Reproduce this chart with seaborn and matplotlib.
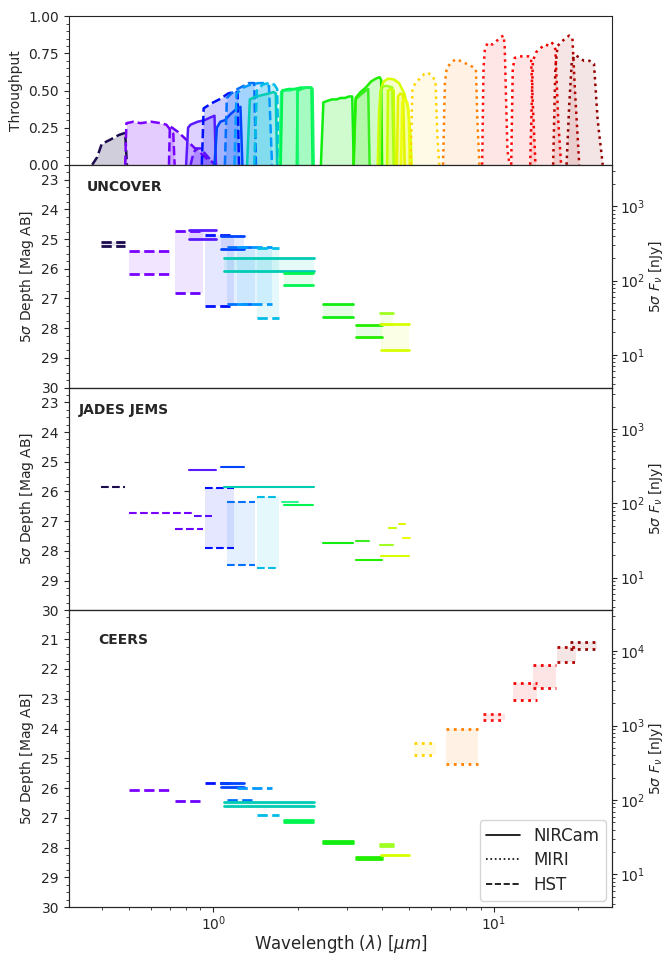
import numpy as np
import pandas as pd
import matplotlib
matplotlib.use("Agg")
import matplotlib.pyplot as plt
import seaborn as sns
from matplotlib.lines import Line2D
from matplotlib.ticker import MultipleLocator, FormatStrFormatter

sns.set_style("ticks")
plt.rcParams['font.family'] = ['DejaVu Sans']

# ---------------------------------------------------------------------------
# Filter table: name, instrument, wavelength span [um]
# ---------------------------------------------------------------------------
filter_names = ['F435W', 'F606W', 'F775W', 'F814W', 'F850LP', 'F090W', 'F105W',
                'F115W', 'F125W', 'F140W', 'F160W', 'F150W', 'F182M', 'F200W',
                'F277W', 'F335M', 'F356W', 'F410M', 'F430M', 'F444W', 'F460M',
                'F480M', 'F560W', 'F770W', 'F1000W', 'F1280W', 'F1500W',
                'F1800W', 'F2100W']
filter_instr = ['HST', 'HST', 'HST', 'HST', 'HST', 'NIRCam', 'HST',
                'NIRCam', 'HST', 'HST', 'HST', 'NIRCam', 'NIRCam', 'NIRCam',
                'NIRCam', 'NIRCam', 'NIRCam', 'NIRCam', 'NIRCam', 'NIRCam', 'NIRCam',
                'NIRCam', 'MIRI', 'MIRI', 'MIRI', 'MIRI', 'MIRI',
                'MIRI', 'MIRI']
filter_lmin = [0.398, 0.499, 0.719, 0.732, 0.856, 0.822, 0.937,
               1.062, 1.118, 1.214, 1.431, 1.091, 1.759, 1.794,
               2.468, 3.237, 3.237, 3.92, 4.24, 3.95, 4.59,
               4.74, 5.20, 6.75, 9.14, 11.71, 13.8,
               16.8, 18.7]
filter_lmax = [0.483, 0.703, 0.847, 0.919, 0.992, 1.022, 1.19,
               1.292, 1.411, 1.617, 1.713, 2.295, 2.005, 2.263,
               3.156, 3.597, 4.01, 4.38, 4.47, 4.99, 4.82,
               5.05, 6.25, 8.78, 11.01, 14.27, 16.7,
               19.7, 23.3]
filter_colors = ['#1c0a4f', '#7a00ff', '#7400ff', '#6a00ff', '#5a10ff', '#5a1aff', '#0010ff',
                 '#0044ff', '#0070ff', '#0099ff', '#00bce6', '#00ccb4', '#30f590', '#00f550',
                 '#10ee10', '#3aee20', '#22ee00', '#a0ff20', '#c8ff00', '#d8ff00', '#e4f400',
                 '#ecff10', '#ffd400', '#ff8000', '#ff1010', '#ff0000', '#ee0000',
                 '#b00000', '#900000']

# ---------------------------------------------------------------------------
# Throughput curves (wavelength [um], throughput)
# ---------------------------------------------------------------------------
tp_F435W = [(0.37, 0), (0.385, 0.05), (0.40, 0.14), (0.43, 0.17), (0.46, 0.20), (0.485, 0.215), (0.492, 0)]
tp_F606W = [(0.485, 0), (0.49, 0.28), (0.52, 0.29), (0.55, 0.28), (0.60, 0.29), (0.65, 0.28),
            (0.68, 0.27), (0.70, 0.24), (0.72, 0.21), (0.728, 0)]
tp_F814W = [(0.695, 0), (0.70, 0.26), (0.75, 0.22), (0.80, 0.17), (0.85, 0.12), (0.90, 0.08),
            (0.95, 0.04), (1.0, 0.015), (1.03, 0)]
tp_F850LP = [(0.83, 0), (0.85, 0.08), (0.87, 0.11), (0.90, 0.11), (0.93, 0.08), (0.97, 0.04),
             (1.0, 0.01), (1.02, 0)]
tp_F090W = [(0.80, 0), (0.813, 0.25), (0.83, 0.27), (0.88, 0.29), (0.93, 0.30), (0.98, 0.32),
            (1.01, 0.33), (1.022, 0)]
tp_F105W = [(0.91, 0), (0.924, 0.38), (0.96, 0.40), (1.0, 0.42), (1.05, 0.44), (1.09, 0.46),
            (1.13, 0.48), (1.18, 0.49), (1.22, 0.49), (1.235, 0)]
tp_F115W = [(1.01, 0), (1.03, 0.25), (1.06, 0.29), (1.10, 0.30), (1.15, 0.34), (1.20, 0.37),
            (1.25, 0.39), (1.27, 0)]
tp_F125W = [(1.10, 0), (1.118, 0.45), (1.16, 0.48), (1.22, 0.51), (1.28, 0.53), (1.34, 0.55),
            (1.40, 0.55), (1.42, 0)]
tp_F140W = [(1.19, 0), (1.21, 0.48), (1.28, 0.52), (1.36, 0.54), (1.45, 0.55), (1.52, 0.55),
            (1.58, 0.53), (1.62, 0)]
tp_F160W = [(1.40, 0), (1.43, 0.50), (1.50, 0.54), (1.58, 0.55), (1.65, 0.54), (1.69, 0.51), (1.71, 0)]
tp_F150W = [(1.32, 0), (1.35, 0.44), (1.42, 0.46), (1.50, 0.47), (1.58, 0.48), (1.64, 0.49),
            (1.67, 0.48), (1.69, 0)]
tp_F182M = [(1.72, 0), (1.745, 0.49), (1.80, 0.50), (1.88, 0.50), (1.95, 0.51), (1.99, 0.51), (2.005, 0)]
tp_F200W = [(1.74, 0), (1.76, 0.50), (1.85, 0.51), (1.95, 0.51), (2.05, 0.52), (2.15, 0.52),
            (2.24, 0.52), (2.26, 0)]
tp_F210M = [(1.985, 0), (2.0, 0.50), (2.07, 0.51), (2.14, 0.52), (2.22, 0.52), (2.26, 0.51), (2.28, 0)]
tp_F277W = [(2.42, 0), (2.47, 0.42), (2.55, 0.43), (2.65, 0.44), (2.75, 0.44), (2.85, 0.45),
            (2.95, 0.45), (3.05, 0.46), (3.13, 0.46), (3.17, 0)]
tp_F335M = [(3.17, 0), (3.22, 0.44), (3.30, 0.46), (3.40, 0.48), (3.50, 0.50), (3.57, 0.51), (3.61, 0)]
tp_F356W = [(3.16, 0), (3.22, 0.45), (3.35, 0.49), (3.50, 0.52), (3.65, 0.56), (3.80, 0.58),
            (3.92, 0.59), (3.97, 0.57), (4.0, 0)]
tp_F410M = [(3.92, 0), (3.96, 0.50), (4.05, 0.53), (4.2, 0.53), (4.35, 0.52), (4.40, 0)]
tp_F430M = [(4.17, 0), (4.2, 0.50), (4.3, 0.51), (4.40, 0.50), (4.44, 0)]
tp_F444W = [(3.86, 0), (3.90, 0.35), (3.95, 0.50), (4.05, 0.56), (4.2, 0.58), (4.4, 0.575),
            (4.6, 0.55), (4.8, 0.48), (4.95, 0.38), (5.05, 0.2), (5.1, 0)]
tp_F460M = [(4.52, 0), (4.56, 0.46), (4.65, 0.48), (4.75, 0.47), (4.82, 0)]
tp_F480M = [(4.67, 0), (4.72, 0.42), (4.82, 0.44), (4.92, 0.42), (4.98, 0.35), (5.02, 0)]
tp_F560W = [(5.05, 0), (5.13, 0.50), (5.25, 0.55), (5.45, 0.58), (5.65, 0.61), (5.85, 0.62),
            (6.05, 0.59), (6.2, 0.57), (6.3, 0.2), (6.4, 0)]
tp_F770W = [(6.6, 0), (6.7, 0.55), (6.8, 0.65), (7.0, 0.68), (7.3, 0.71), (7.6, 0.70),
            (8.0, 0.68), (8.4, 0.66), (8.65, 0.64), (8.75, 0.3), (8.9, 0)]
tp_F1000W = [(9.1, 0), (9.2, 0.65), (9.3, 0.77), (9.5, 0.82), (9.9, 0.81), (10.2, 0.83),
             (10.6, 0.86), (10.85, 0.87), (10.95, 0.8), (11.2, 0.1), (11.4, 0)]
tp_F1280W = [(11.55, 0), (11.7, 0.65), (11.9, 0.72), (12.3, 0.73), (12.8, 0.73), (13.3, 0.73),
             (13.6, 0.72), (13.8, 0.4), (14.1, 0)]
tp_F1500W = [(13.5, 0), (13.8, 0.70), (14.2, 0.76), (14.8, 0.79), (15.3, 0.81), (15.8, 0.80),
             (16.2, 0.82), (16.6, 0.78), (17.0, 0.3), (17.4, 0)]
tp_F1800W = [(16.3, 0), (16.6, 0.65), (16.9, 0.80), (17.5, 0.83), (18.0, 0.85), (18.6, 0.87),
             (19.1, 0.85), (19.5, 0.5), (20.2, 0)]
tp_F2100W = [(18.2, 0), (18.6, 0.4), (19.0, 0.70), (19.5, 0.74), (20.3, 0.72), (21.0, 0.70),
             (22.0, 0.70), (22.8, 0.68), (23.5, 0.3), (24.5, 0)]

# ---------------------------------------------------------------------------
# 5-sigma depths [AB mag]: shallow and deep value per filter
# ---------------------------------------------------------------------------
uncover_filters = ['F435W', 'F606W', 'F814W', 'F090W', 'F105W', 'F115W', 'F125W', 'F140W',
                   'F160W', 'F150W', 'F200W', 'F277W', 'F356W', 'F410M', 'F444W']
uncover_bright = [25.11, 25.41, 24.72, 24.70, 24.86, 24.90, 25.27, 25.28,
                  25.29, 25.65, 26.14, 27.20, 27.88, 27.49, 27.86]
uncover_faint = [25.22, 26.18, 26.81, 25.01, 27.27, 25.35, 27.19, 27.20,
                 27.66, 26.07, 26.54, 27.63, 28.31, 27.86, 28.74]

jades_filters = ['F435W', 'F606W', 'F775W', 'F814W', 'F850LP', 'F090W', 'F105W', 'F115W',
                 'F125W', 'F160W', 'F150W', 'F182M', 'F200W', 'F277W', 'F335M', 'F356W',
                 'F410M', 'F430M', 'F444W', 'F460M', 'F480M']
jades_bright = [25.85, 26.71, 26.74, 27.25, 26.81, 25.27, 25.90, 25.18,
                26.36, 26.18, 25.86, 26.34, 26.45, 27.72, 27.66, 28.30,
                27.81, 27.22, 28.17, 27.11, 27.56]
jades_faint = [25.85, 26.71, 26.74, 27.25, 26.81, 25.27, 27.91, 25.18,
               28.47, 28.57, 25.86, 26.34, 26.45, 27.72, 27.66, 28.30,
               27.81, 27.22, 28.17, 27.11, 27.56]

ceers_filters = ['F606W', 'F814W', 'F105W', 'F115W', 'F125W', 'F140W', 'F160W', 'F150W',
                 'F200W', 'F277W', 'F356W', 'F410M', 'F444W', 'F560W', 'F770W', 'F1000W',
                 'F1280W', 'F1500W', 'F1800W', 'F2100W']
ceers_bright = [26.08, 26.43, 25.82, 25.82, 26.39, 25.99, 26.90, 26.48,
                27.08, 27.79, 28.33, 27.87, 28.23, 24.47, 24.02, 23.51,
                22.47, 21.87, 21.26, 21.09]
ceers_faint = [26.08, 26.43, 25.82, 25.96, 26.39, 25.99, 26.90, 26.59,
               27.13, 27.85, 28.38, 27.93, 28.23, 24.88, 25.18, 23.70,
               23.04, 22.64, 21.78, 21.34]

# ---------------------------------------------------------------------------
info = pd.DataFrame({'instr': filter_instr, 'lmin': filter_lmin, 'lmax': filter_lmax,
                     'color': filter_colors}, index=filter_names)
linestyles = {'NIRCam': '-', 'MIRI': ':', 'HST': '--'}
extra_colors = {'F210M': '#10f560'}

curves = [
    ('F435W', tp_F435W, 'HST'), ('F606W', tp_F606W, 'HST'), ('F814W', tp_F814W, 'HST'),
    ('F850LP', tp_F850LP, 'HST'), ('F090W', tp_F090W, 'NIRCam'), ('F105W', tp_F105W, 'HST'),
    ('F115W', tp_F115W, 'NIRCam'), ('F125W', tp_F125W, 'HST'), ('F140W', tp_F140W, 'HST'),
    ('F150W', tp_F150W, 'NIRCam'), ('F160W', tp_F160W, 'HST'),
    ('F182M', tp_F182M, 'NIRCam'), ('F200W', tp_F200W, 'NIRCam'), ('F210M', tp_F210M, 'NIRCam'),
    ('F277W', tp_F277W, 'NIRCam'), ('F335M', tp_F335M, 'NIRCam'), ('F356W', tp_F356W, 'NIRCam'),
    ('F444W', tp_F444W, 'NIRCam'), ('F410M', tp_F410M, 'NIRCam'), ('F430M', tp_F430M, 'NIRCam'),
    ('F460M', tp_F460M, 'NIRCam'), ('F480M', tp_F480M, 'NIRCam'),
    ('F560W', tp_F560W, 'MIRI'), ('F770W', tp_F770W, 'MIRI'), ('F1000W', tp_F1000W, 'MIRI'),
    ('F1280W', tp_F1280W, 'MIRI'), ('F1500W', tp_F1500W, 'MIRI'), ('F1800W', tp_F1800W, 'MIRI'),
    ('F2100W', tp_F2100W, 'MIRI'),
]


def color_of(name):
    if name in info.index:
        return info.loc[name, 'color']
    return extra_colors[name]


def mag_to_njy(m):
    return 10 ** ((31.4 - np.asarray(m, dtype=float)) / 2.5)


fig, axes = plt.subplots(4, 1, sharex=True, figsize=(6.67, 9.57), dpi=100,
                         gridspec_kw=dict(height_ratios=[2, 3, 3, 4], hspace=0))
fig.subplots_adjust(left=0.103, right=0.918, top=0.983, bottom=0.052)

# ---- throughput panel ----
ax0 = axes[0]
for name, pts, instr in curves:
    lam = [p[0] for p in pts]
    thr = [p[1] for p in pts]
    c = color_of(name)
    ls = linestyles[instr]
    alpha = 0.1 if instr == 'MIRI' else 0.2
    ax0.fill_between(lam, 0, thr, color=c, alpha=alpha, lw=0)
    sns.lineplot(x=lam, y=thr, ax=ax0, color=c, linestyle=ls, linewidth=1.8,
                 sort=False, estimator=None, legend=False)
ax0.set_ylim(0, 1)
ax0.set_ylabel('Throughput', fontsize=10)
ax0.yaxis.set_major_locator(MultipleLocator(0.25))
ax0.yaxis.set_minor_locator(MultipleLocator(0.05))
ax0.yaxis.set_major_formatter(FormatStrFormatter('%.2f'))

# ---- depth panels ----
panels = [
    (axes[1], 'UNCOVER', uncover_filters, uncover_bright, uncover_faint, (30, 22.5), 2.0, 0.033),
    (axes[2], 'JADES JEMS', jades_filters, jades_bright, jades_faint, (30, 22.5), 1.5, 0.018),
    (axes[3], 'CEERS', ceers_filters, ceers_bright, ceers_faint, (30, 20.03), 2.0, 0.055),
]

for ax, title, names, bright, faint, ylim, lw, tx in panels:
    for name, m1, m2 in zip(names, bright, faint):
        row = info.loc[name]
        xs = [row['lmin'], row['lmax']]
        ls = linestyles[row['instr']]
        c = row['color']
        if m2 != m1:
            ax.fill_between(xs, m1, m2, color=c, alpha=0.1, lw=0)
        for m in sorted({m1, m2}):
            sns.lineplot(x=xs, y=[m, m], ax=ax, color=c, linestyle=ls, linewidth=lw,
                         legend=False)
    ax.set_ylim(*ylim)
    ax.yaxis.set_major_locator(MultipleLocator(1))
    ax.yaxis.set_minor_locator(MultipleLocator(0.25))
    ax.set_ylabel(r'5$\sigma$ Depth [Mag AB]', fontsize=10)
    ax.text(tx, 0.90, title, transform=ax.transAxes, fontsize=10,
            fontweight='bold', va='center', ha='left')
    ax2 = ax.twinx()
    ax2.set_yscale('log')
    ax2.set_ylim(mag_to_njy(ylim[0]), mag_to_njy(ylim[1]))
    ax2.set_ylabel(r'5$\sigma$ $F_\nu$ [nJy]', fontsize=10, labelpad=1)
    ax2.tick_params(axis='y', labelsize=10, pad=2)

for ax in axes:
    ax.set_xscale('log')
    ax.tick_params(labelsize=10)
axes[0].set_xlim(0.305, 26.5)
axes[3].set_xlabel(r'Wavelength ($\lambda$) [$\mu m$]', fontsize=12, labelpad=0)
axes[3].tick_params(axis='x', pad=2)

handles = [Line2D([], [], color='k', ls='-', lw=1.2),
           Line2D([], [], color='k', ls=':', lw=1.2),
           Line2D([], [], color='k', ls='--', lw=1.2)]
axes[3].legend(handles, ['NIRCam', 'MIRI', 'HST'], loc='lower right', fontsize=12,
               frameon=True, labelspacing=0.4, borderaxespad=0.4)

fig.savefig('out.png', dpi=100)
